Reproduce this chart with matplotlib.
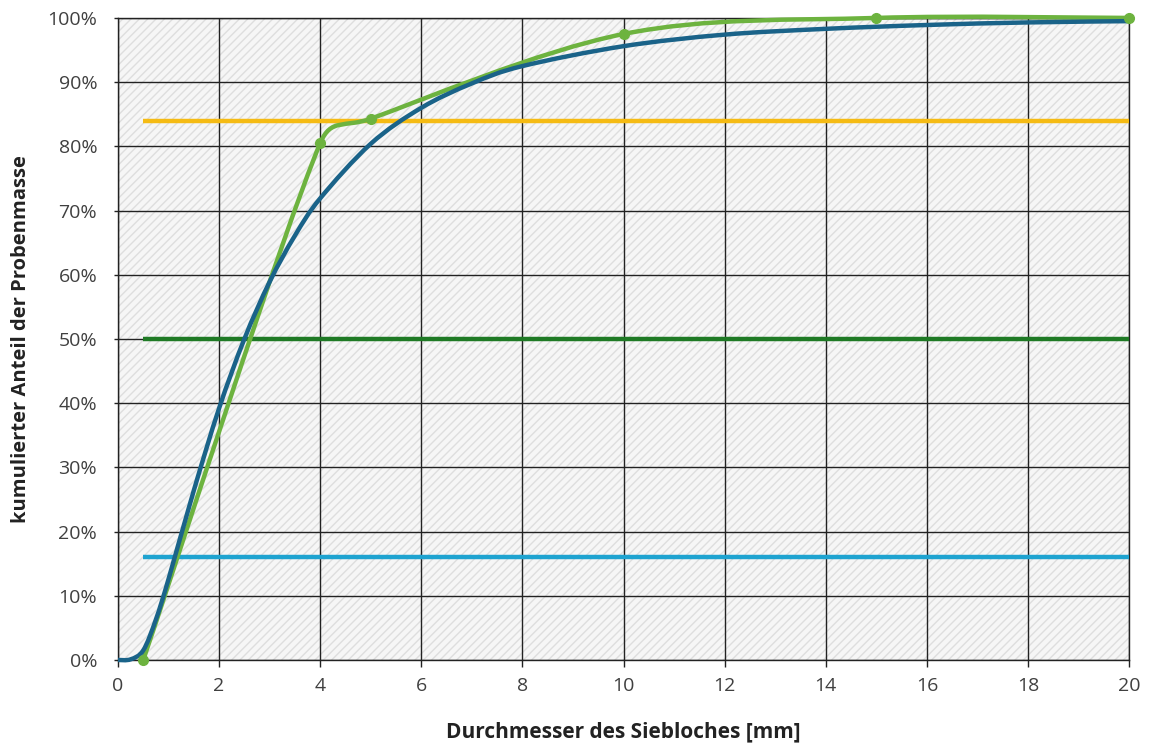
import numpy as np
import matplotlib
matplotlib.use("Agg")
from matplotlib import pyplot as plt
from matplotlib.path import Path
from matplotlib.patches import PathPatch, Rectangle

plt.rcParams['font.family'] = ['Open Sans', 'DejaVu Sans']

# sieve data (measured points)
sieve_mm = [0.5, 4, 5, 10, 15, 20]
sieve_cum = [0.0, 80.5, 84.3, 97.5, 100.0, 100.0]

# fitted distribution curve
fit_mm = [0, 0.25, 0.5, 0.75, 1, 1.5, 2, 2.5, 3, 3.5, 4, 5, 6, 7, 8, 10, 12, 14, 16, 18, 20]
fit_cum = [0.0, 0.1, 1.5, 6.3, 12.6, 26.4, 39.2, 50.0, 58.9, 66.1, 71.9, 80.4,
           86.0, 89.8, 92.5, 95.6, 97.4, 98.3, 98.9, 99.3, 99.5]

# reference levels d16 / d50 / d84
levels = [16, 50, 84]
level_colors = ['#1ea3d0', '#1f7a25', '#f5bb14']
level_start = 0.5
level_end = 20


def smooth_path(ax, xs, ys):
    # excel-like smoothed line: bezier segments, control points limited to half a segment
    pts = ax.transData.transform(np.column_stack([xs, ys]))
    n = len(pts)
    verts = [pts[0]]
    codes = [Path.MOVETO]
    for i in range(n - 1):
        p0 = pts[i - 1] if i > 0 else pts[i]
        p1 = pts[i]
        p2 = pts[i + 1]
        p3 = pts[i + 2] if i + 2 < n else pts[i + 1]
        d12 = np.hypot(*(p2 - p1))
        t1 = p2 - p0
        t2 = p3 - p1
        l1 = np.hypot(*t1)
        l2 = np.hypot(*t2)
        c1 = p1 + (t1 / 6 if l1 / 6 < d12 / 2 else t1 * (d12 / 2) / max(l1, 1e-9))
        c2 = p2 - (t2 / 6 if l2 / 6 < d12 / 2 else t2 * (d12 / 2) / max(l2, 1e-9))
        verts += [c1, c2, p2]
        codes += [Path.CURVE4] * 3
    verts = ax.transData.inverted().transform(np.array(verts))
    return Path(verts, codes)


fig = plt.figure(figsize=(11.51, 7.47), dpi=100)
ax = fig.add_axes([0.1025, 0.1165, 0.8785, 0.8595])
ax.set_xlim(0, 20)
ax.set_ylim(0, 100)

ax.set_facecolor('white')
bg = Rectangle((0, 0), 1, 1, transform=ax.transAxes, facecolor='#f6f6f6',
               edgecolor='#dedede', hatch='////', lw=0, zorder=0)
ax.add_patch(bg)

ax.set_xticks(np.arange(0, 21, 2))
ax.set_yticks(np.arange(0, 101, 10))
ax.set_yticklabels(['{}%'.format(v) for v in range(0, 101, 10)])
ax.grid(True, color='#222222', lw=1.0, zorder=1)
ax.set_axisbelow(True)
for s in ax.spines.values():
    s.set_color('#222222')
    s.set_linewidth(1.0)
ax.tick_params(axis='both', colors='#222222', labelcolor='#404040', labelsize=14,
               length=5, width=1.0, direction='out')
ax.tick_params(axis='x', pad=7)
ax.tick_params(axis='y', pad=12, length=3)

for lv, c in zip(levels, level_colors):
    ax.plot([level_start, level_end], [lv, lv], color=c, lw=3.2, zorder=3, solid_capstyle='butt')

fig.canvas.draw()
ax.add_patch(PathPatch(smooth_path(ax, sieve_mm, sieve_cum), facecolor='none',
                       edgecolor='#6db33f', lw=3.2, zorder=4, clip_on=False))
ax.add_patch(PathPatch(smooth_path(ax, fit_mm, fit_cum), facecolor='none',
                       edgecolor='#1a6389', lw=3.2, zorder=5, clip_on=False))
ax.plot(sieve_mm, sieve_cum, 'o', color='#6db33f', ms=7, zorder=6, clip_on=False)

ax.set_xlabel('Durchmesser des Siebloches [mm]', fontsize=15, fontweight='bold',
              color='#222222', labelpad=19)
ax.set_ylabel('kumulierter Anteil der Probenmasse', fontsize=14.5, fontweight='bold',
              color='#222222', labelpad=12)

fig.savefig('out.png', dpi=100)
